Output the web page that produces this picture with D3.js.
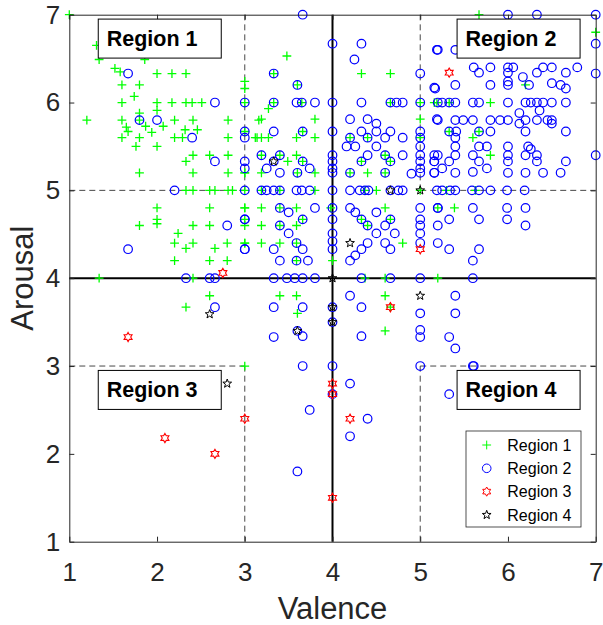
<!DOCTYPE html>
<html>
<head>
<meta charset="utf-8">
<script src="https://cdn.jsdelivr.net/npm/d3@7"></script>
<style>
  body { margin: 0; background: #fff; }
  svg { display: block; font-family: "Liberation Sans", Arial, Helvetica, sans-serif; }
</style>
</head>
<body>
<div id="chart"></div>
<script>
const width = 603;
const height = 625;

// valence / arousal pairs
const region1 = [
  [1.0,7.0],[1.39,6.73],[1.31,6.65],[1.5,6.65],[2.66,6.65],[2.0,6.6],[1.34,6.49],[1.86,6.49],
  [1.52,6.39],[1.58,6.35],[2.0,6.33],[2.17,6.33],[2.33,6.33],[3.0,6.24],[3.0,6.16],[1.6,6.2],
  [1.8,6.2],[1.74,6.07],[1.6,6.0],[2.0,6.0],[2.17,6.0],[2.33,6.0],[2.4,6.0],[2.51,6.0],
  [2.0,5.91],[1.8,5.88],[1.2,5.8],[1.6,5.8],[1.8,5.8],[2.2,5.8],[2.41,5.8],[2.81,5.8],[3.16,5.8],
  [1.65,5.72],[1.87,5.73],[2.07,5.73],[2.32,5.69],[2.46,5.69],[1.67,5.67],[1.94,5.66],
  [1.6,5.6],[1.8,5.6],[2.2,5.6],[2.29,5.6],[2.81,5.6],[3.14,5.6],[1.76,5.5],[2.0,5.5],
  [2.41,5.4],[2.6,5.4],[2.81,5.4],[2.33,5.33],[1.8,5.2],[2.41,5.2],[2.81,5.2],[3.0,5.2],
  [2.33,5.0],[2.41,5.0],[2.6,5.0],[2.66,5.0],[2.81,5.0],[2.86,5.0],
  [2.0,4.8],[2.6,4.8],[3.0,4.8],[2.0,4.67],[1.8,4.6],[2.0,4.62],[2.41,4.6],[2.6,4.6],[3.0,4.6],
  [2.24,4.51],[2.2,4.4],[2.41,4.4],[2.8,4.4],[3.0,4.4],[2.33,4.34],[2.66,4.34],[2.2,4.2],
  [2.6,4.2],[2.8,4.2],[1.34,4.0],[2.41,4.0],[2.6,3.8],[2.33,3.67],[3.0,3.0],
  [3.48,6.53],[4.33,6.33],[4.66,6.33],[3.27,5.93],[3.19,5.81],[3.8,5.81],[5.0,5.81],
  [3.12,5.6],[3.19,5.6],[3.27,5.6],[3.59,5.6],[3.8,5.6],[3.59,5.4],[3.49,5.33],
  [3.0,5.2],[3.19,5.2],[3.8,5.2],[4.4,5.2],[5.16,6.0],
  [3.0,6.0],[3.33,6.0],[3.65,6.0],[4.66,6.0],[5.0,6.0],[3.33,6.33],[3.6,6.2],[3.0,5.67],
  [3.66,5.67],[4.2,5.6],[4.4,5.6],[5.0,5.6],[3.19,5.4],[3.4,5.4],[4.6,5.4],[3.66,5.33],
  [4.33,5.33],[4.66,5.33],[3.6,5.2],[4.2,5.2],[4.6,5.2],
  [3.0,5.0],[3.19,5.0],[3.4,5.0],[3.8,5.0],[4.37,5.0],[4.5,5.0],[5.0,5.0],
  [3.0,4.8],[3.19,4.8],[3.59,4.8],[3.98,4.8],[4.6,4.8],[3.4,4.8],
  [3.0,4.67],[3.66,4.67],[4.33,4.67],[4.66,4.67],[3.19,4.6],[3.4,4.6],[3.59,4.6],[4.4,4.6],
  [3.0,4.4],[3.19,4.4],[3.4,4.4],[3.59,4.4],[4.8,4.4],[3.59,4.2],[4.0,4.2],
  [4.37,4.0],[4.6,4.0],[5.2,4.0],[3.4,3.8],[3.59,3.8],[4.6,3.8],[3.6,3.6],[4.66,3.67],[4.6,3.4],
  [5.2,4.8],[5.39,4.8],[5.3,5.0],[5.63,5.0],
  [5.67,7.0],[7.0,6.8],[6.0,6.67],[5.19,6.0],[5.33,6.0],[5.8,6.0],[5.33,5.67],[5.67,5.67],
  [5.6,5.6],[5.8,5.4],[6.2,6.2]
];

const region2 = [
  [1.67,6.33],[2.66,6.0],[1.8,5.8],[2.0,5.8],[2.4,5.6],[3.0,5.6],[2.66,5.33],[3.0,5.25],
  [2.2,5.0],[3.0,4.67],[2.8,4.6],[1.67,4.33],[3.0,4.33],[2.33,4.0],[2.6,4.0],[2.66,4.0],[2.66,3.67],
  [3.66,3.0],[4.0,3.0],[5.0,3.0],[4.2,2.8],[4.0,2.68],[3.74,2.5],[4.4,2.4],[4.2,2.2],[3.6,1.8],
  [5.61,3.0],[5.33,2.68],[5.8,2.6],
  [3.66,7.0],[4.0,6.67],[4.33,6.67],[5.19,6.6],[4.25,6.49],[3.33,6.33],[5.0,6.33],[3.6,6.2],[5.16,6.17],
  [3.0,6.0],[3.33,6.0],[3.59,6.0],[3.65,6.0],[3.8,6.0],[4.0,6.0],[4.33,6.0],[4.66,6.0],[4.73,6.0],
  [4.8,6.0],[5.0,6.0],[5.2,6.0],[4.2,5.81],[4.4,5.81],[5.19,5.81],[4.5,5.76],
  [3.0,5.67],[3.33,5.67],[3.66,5.67],[4.0,5.67],[4.33,5.67],[4.66,5.67],[5.0,5.67],[4.5,5.67],
  [4.2,5.6],[4.4,5.6],[4.6,5.6],[4.8,5.6],[5.0,5.6],[4.16,5.5],[4.26,5.5],[4.5,5.5],[5.0,5.5],
  [3.19,5.4],[3.4,5.4],[4.0,5.4],[4.4,5.4],[4.6,5.4],[4.8,5.4],[5.0,5.4],[5.16,5.4],
  [3.0,5.33],[3.33,5.33],[3.66,5.33],[4.0,5.33],[4.33,5.33],[4.66,5.33],[5.0,5.33],[5.16,5.33],
  [3.25,5.25],[3.74,5.25],[4.0,5.25],[4.9,5.19],[5.0,5.25],[5.0,5.2],[5.16,5.2],
  [3.4,5.2],[3.6,5.2],[4.0,5.2],[4.2,5.2],[4.6,5.2],
  [3.0,5.0],[3.19,5.0],[3.25,5.0],[3.33,5.0],[3.4,5.0],[3.59,5.0],[3.65,5.0],[3.74,5.0],[4.0,5.0],
  [4.2,5.0],[4.31,5.0],[4.37,5.0],[4.41,5.0],[4.66,5.0],[4.75,5.0],[4.8,5.0],
  [3.4,4.8],[3.8,4.8],[4.2,4.8],[5.0,4.8],[5.2,4.8],[3.5,4.75],[4.26,4.75],[4.5,4.75],
  [3.0,4.67],[3.66,4.67],[4.33,4.67],[4.66,4.67],[5.0,4.67],[4.0,4.8],[4.0,4.67],
  [3.4,4.6],[4.4,4.6],[4.6,4.6],[5.0,4.6],[5.2,4.6],[3.5,4.51],[4.0,4.51],[4.5,4.51],[4.71,4.51],[5.0,4.51],
  [3.59,4.4],[4.0,4.42],[4.4,4.4],[4.6,4.4],[5.0,4.4],[5.2,4.4],
  [3.0,4.33],[3.33,4.33],[3.66,4.33],[4.0,4.33],[4.33,4.33],[4.66,4.33],
  [4.26,4.26],[4.2,4.2],[3.4,4.2],[3.59,4.2],[3.72,4.2],
  [3.33,4.0],[3.48,4.0],[3.57,4.0],[3.66,4.0],[3.8,4.0],[4.33,4.0],[4.66,4.0],[5.0,4.0],
  [4.2,3.8],[3.33,3.67],[3.66,3.67],[4.0,3.67],[4.33,3.67],[5.0,3.6],[4.0,3.5],
  [5.0,3.41],[5.0,3.33],[3.66,3.34],[3.33,3.33],[4.33,3.34],[3.6,3.4],
  [5.19,5.0],[5.25,5.0],[5.34,5.0],[5.4,5.0],[5.59,5.0],[5.67,5.0],[5.8,5.0],[5.99,5.0],[6.19,5.0],
  [5.2,4.8],[5.6,4.8],[5.99,4.8],[6.2,4.8],[5.33,4.67],[5.67,4.67],[5.99,4.67],[6.2,4.6],
  [5.33,4.33],[5.67,4.33],[5.6,4.2],[5.6,4.0],[5.4,3.8],[5.4,3.6],[5.33,3.33],[5.4,3.2],[5.6,3.0],
  [6.0,7.0],[6.33,7.0],[7.0,7.0],[6.0,6.67],[6.33,6.67],[7.0,6.67],[6.66,6.67],[6.39,6.81],
  [5.2,6.6],[5.4,6.6],[6.0,6.6],[6.6,6.6],
  [5.61,6.4],[5.8,6.4],[6.06,6.4],[6.4,6.4],[6.5,6.4],[6.79,6.4],[6.0,6.4],
  [5.67,6.34],[6.0,6.34],[6.33,6.34],[6.66,6.34],[7.0,6.33],[6.17,6.29],
  [6.0,6.24],[6.5,6.22],[6.6,6.2],[5.17,6.16],[5.4,6.2],[5.8,6.2],[6.0,6.2],[6.24,6.2],[6.66,6.16],
  [5.25,6.0],[5.33,6.0],[5.4,6.0],[5.6,6.0],[5.67,6.0],[6.0,6.0],[6.2,6.0],[6.26,6.0],[6.33,6.0],
  [6.4,6.0],[6.5,6.0],[6.66,6.0],
  [5.2,5.8],[5.4,5.8],[5.49,5.8],[5.6,5.8],[5.8,5.8],[5.91,5.8],[6.0,5.8],[6.2,5.8],[6.33,5.8],
  [6.45,5.8],[6.5,5.8],[6.13,5.88],[6.36,5.91],[6.13,5.76],[6.5,5.76],
  [5.33,5.67],[5.41,5.67],[5.67,5.67],[5.8,5.67],[6.2,5.67],[6.66,5.67],[5.4,5.6],
  [5.4,5.5],[5.67,5.5],[5.76,5.5],[6.0,5.5],[6.23,5.5],[6.26,5.47],
  [5.2,5.4],[5.4,5.4],[5.6,5.4],[6.0,5.4],[6.2,5.4],[6.33,5.4],[7.0,5.4],
  [5.16,5.33],[5.33,5.33],[5.67,5.33],[6.0,5.33],[6.33,5.33],[6.66,5.33],
  [5.25,5.25],[5.6,5.21],[5.76,5.25],[5.16,5.2],[5.4,5.2],[6.0,5.2],[6.2,5.2],[6.4,5.2],[6.6,5.2]
];

const region3 = [
  [2.75,4.06],[1.67,3.33],[3.0,2.4],[2.09,2.18],[2.66,2.0],[4.0,2.8],[4.0,2.68],[4.2,2.4],
  [4.0,1.5],[5.33,6.34],[5.0,4.33],[4.66,3.67]
];

const region4 = [
  [3.33,5.33],[4.66,5.0],[5.0,5.0],[4.2,4.4],[4.0,4.0],[4.0,3.67],[4.0,3.5],[3.6,3.4],
  [5.0,3.8],[2.6,3.59],[2.8,2.8]
];

const ticks = [1, 2, 3, 4, 5, 6, 7];
const regionNames = ["Region 1", "Region 2", "Region 3", "Region 4"];

const x = d3.scaleLinear().domain([1, 7]).range([69.3, 595.7]);
const y = d3.scaleLinear().domain([1, 7]).range([541.7, 14.7]);

const textColor = "#262626";

const svg = d3.select("#chart").append("svg")
    .attr("width", width)
    .attr("height", height);

// star outline path (n points)
function starPath(n, R, r) {
    let pts = [];
    for (let i = 0; i < 2 * n; i++) {
        let a = -Math.PI / 2 + i * Math.PI / n;
        let rad = i % 2 === 0 ? R : r;
        pts.push([rad * Math.cos(a), rad * Math.sin(a)]);
    }
    return "M" + pts.map(p => p[0].toFixed(2) + "," + p[1].toFixed(2)).join("L") + "Z";
}

const markers = {
    plus: "M-4.4,0H4.4M0,-4.4V4.4",
    circle: "M4.3,0A4.3,4.3 0 1,1 -4.3,0A4.3,4.3 0 1,1 4.3,0Z",
    hexagram: starPath(6, 4.6, 2.66),
    pentagram: starPath(5, 4.6, 1.9)
};
const styles = [
    { d: markers.plus, color: "#00ff00", w: 1.3 },
    { d: markers.circle, color: "#0000ff", w: 1.2 },
    { d: markers.hexagram, color: "#ff0000", w: 1.1 },
    { d: markers.pentagram, color: "#000000", w: 1 }
];

// quadrant lines
const guides = svg.append("g");
const dashed = [
    [[1, 5], [3, 5]], [[5, 5], [7, 5]], [[1, 3], [3, 3]], [[5, 3], [7, 3]],
    [[3, 5], [3, 7]], [[5, 5], [5, 7]], [[3, 1], [3, 3]], [[5, 1], [5, 3]]
];
guides.selectAll("line.dash")
    .data(dashed)
    .enter().append("line")
    .attr("class", "dash")
    .attr("x1", d => x(d[0][0])).attr("y1", d => y(d[0][1]))
    .attr("x2", d => x(d[1][0])).attr("y2", d => y(d[1][1]))
    .attr("stroke", "#333")
    .attr("stroke-width", 0.9)
    .attr("stroke-dasharray", "6,4");

guides.selectAll("line.solid")
    .data([[[4, 1], [4, 7]], [[1, 4], [7, 4]]])
    .enter().append("line")
    .attr("class", "solid")
    .attr("x1", d => x(d[0][0])).attr("y1", d => y(d[0][1]))
    .attr("x2", d => x(d[1][0])).attr("y2", d => y(d[1][1]))
    .attr("stroke", "#000")
    .attr("stroke-width", 2);

// points
[region1, region2, region3, region4].forEach((pts, i) => {
    svg.append("g").selectAll("path")
        .data(pts)
        .enter().append("path")
        .attr("d", styles[i].d)
        .attr("transform", d => `translate(${x(d[0])},${y(d[1])})`)
        .attr("fill", "none")
        .attr("stroke", styles[i].color)
        .attr("stroke-width", styles[i].w);
});

// axes
const fontTick = 26;
const xAxis = svg.append("g")
    .attr("transform", `translate(0,${y(1)})`)
    .call(d3.axisBottom(x).tickValues(ticks).tickFormat(d3.format("d")).tickSize(-5).tickSizeOuter(0).tickPadding(21));
const yAxis = svg.append("g")
    .attr("transform", `translate(${x(1)},0)`)
    .call(d3.axisLeft(y).tickValues(ticks).tickFormat(d3.format("d")).tickSize(-5).tickSizeOuter(0).tickPadding(9));
const topAxis = svg.append("g")
    .attr("transform", `translate(0,${y(7)})`)
    .call(d3.axisTop(x).tickValues(ticks).tickFormat("").tickSize(-5).tickSizeOuter(0));
const rightAxis = svg.append("g")
    .attr("transform", `translate(${x(7)},0)`)
    .call(d3.axisRight(y).tickValues(ticks).tickFormat("").tickSize(-5).tickSizeOuter(0));

[xAxis, yAxis, topAxis, rightAxis].forEach(a => {
    a.select(".domain").attr("stroke", textColor).attr("stroke-width", 1);
    a.selectAll(".tick line").attr("stroke", textColor).attr("stroke-width", 1);
    a.selectAll(".tick text")
        .attr("fill", textColor)
        .style("font-size", fontTick + "px")
        .style("font-family", "'Liberation Sans', Arial, sans-serif");
});

// axis titles
svg.append("text")
    .attr("x", (x(1) + x(7)) / 2)
    .attr("y", 619)
    .attr("text-anchor", "middle")
    .attr("fill", textColor)
    .style("font-size", "31px")
    .text("Valence");

svg.append("text")
    .attr("transform", `translate(33,${(y(1) + y(7)) / 2}) rotate(-90)`)
    .attr("text-anchor", "middle")
    .attr("fill", textColor)
    .style("font-size", "31px")
    .text("Arousal");

// region label boxes
const labelPos = [[1.33, 6.95], [5.42, 6.95], [1.33, 2.95], [5.42, 2.95]];
labelPos.forEach((p, i) => {
    let bx = x(p[0]), by = y(p[1]);
    svg.append("rect")
        .attr("x", bx).attr("y", by)
        .attr("width", 123).attr("height", 39)
        .attr("fill", "#fff")
        .attr("stroke", "#000")
        .attr("stroke-width", 1);
    svg.append("text")
        .attr("x", bx + 8.5).attr("y", by + 27)
        .attr("fill", "#000")
        .style("font-size", "21.5px")
        .style("font-weight", "bold")
        .text(regionNames[i]);
});

// legend
const legend = svg.append("g").attr("transform", "translate(466,431)");
legend.append("rect")
    .attr("width", 115).attr("height", 96)
    .attr("fill", "#fff")
    .attr("stroke", textColor)
    .attr("stroke-width", 0.8);
regionNames.forEach((name, i) => {
    let row = legend.append("g").attr("transform", `translate(0,${14 + i * 23.3})`);
    row.append("path")
        .attr("d", styles[i].d)
        .attr("transform", "translate(20.7,0)")
        .attr("fill", "none")
        .attr("stroke", styles[i].color)
        .attr("stroke-width", 1);
    row.append("text")
        .attr("x", 41.3).attr("y", 5.6)
        .attr("fill", "#000")
        .style("font-size", "16px")
        .text(name);
});
</script>
</body>
</html>
